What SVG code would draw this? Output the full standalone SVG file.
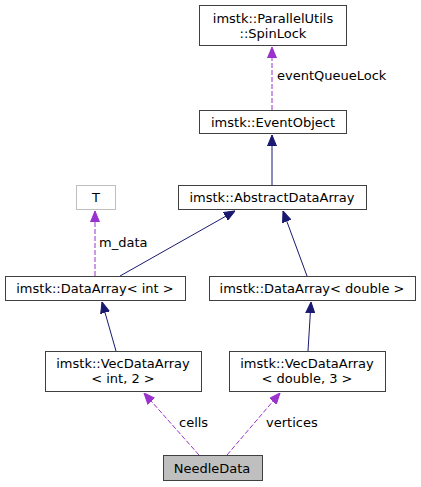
<svg xmlns="http://www.w3.org/2000/svg" width="421" height="487" viewBox="0 0 421 487">
<style>
text{font-family:"DejaVu Sans",sans-serif;font-size:13px;fill:#000;text-anchor:middle}
.lbl{text-anchor:start}
.box{fill:#fff;stroke:#404040;stroke-width:1}
.gbox{fill:#fff;stroke:#bfbfbf;stroke-width:1}
.sel{fill:#bfbfbf;stroke:#404040;stroke-width:1}
.inh{fill:none;stroke:#191970;stroke-width:1}
.use{fill:none;stroke:#9a32cd;stroke-width:1;stroke-dasharray:5,2}
</style>
<defs>
<marker id="ai" markerWidth="11" markerHeight="10" refX="11" refY="5" orient="auto" markerUnits="userSpaceOnUse" viewBox="0 0 11 10"><path d="M0,0.5 L11,5 L0,9.5 z" fill="#191970" stroke="#191970"/></marker>
<marker id="au" markerWidth="11" markerHeight="10" refX="11" refY="5" orient="auto" markerUnits="userSpaceOnUse" viewBox="0 0 11 10"><path d="M0,0.5 L11,5 L0,9.5 z" fill="#9a32cd" stroke="#9a32cd"/></marker>
</defs>
<g id="edges">
<path class="use" d="M272,110 L272,47" marker-end="url(#au)"/>
<text class="lbl" x="277" y="80">eventQueueLock</text>
<path class="inh" d="M120,276 L235,211" marker-end="url(#ai)"/>
<path class="inh" d="M272,185 L272,135" marker-end="url(#ai)"/>
<path class="inh" d="M307,276 L283,211" marker-end="url(#ai)"/>
<path class="use" d="M95,276 L95,211" marker-end="url(#au)"/>
<text class="lbl" x="99" y="247">m_data</text>
<path class="inh" d="M116,351 L102,302" marker-end="url(#ai)"/>
<path class="inh" d="M308,351 L311,302" marker-end="url(#ai)"/>
<path class="use" d="M199,455 L144,393" marker-end="url(#au)"/>
<text class="lbl" x="179" y="427">cells</text>
<path class="use" d="M227,455 L280,393" marker-end="url(#au)"/>
<text class="lbl" x="266" y="427">vertices</text>
</g>
<g id="spinlock"><rect class="box" x="199.5" y="5.5" width="147" height="40"/><text x="273" y="22.5">imstk::ParallelUtils</text><text x="273" y="37.5">::SpinLock</text></g>
<g id="eventobject"><rect class="box" x="199.5" y="110.5" width="147" height="23"/><text x="273" y="126.5">imstk::EventObject</text></g>
<g id="abstractdataarray"><rect class="box" x="178.5" y="185.5" width="188" height="24"/><text x="272" y="202">imstk::AbstractDataArray</text></g>
<g id="T"><rect class="gbox" x="76.5" y="185.5" width="39" height="24"/><text x="96" y="202">T</text></g>
<g id="dataarray_int"><rect class="box" x="5.5" y="276.5" width="180" height="24"/><text x="95" y="293">imstk::DataArray&lt; int &gt;</text></g>
<g id="dataarray_double"><rect class="box" x="209.5" y="276.5" width="206" height="24"/><text x="312" y="293">imstk::DataArray&lt; double &gt;</text></g>
<g id="vec_int"><rect class="box" x="45.5" y="351.5" width="156" height="40"/><text x="123" y="367.5">imstk::VecDataArray</text><text x="123" y="382.5">&lt; int, 2 &gt;</text></g>
<g id="vec_double"><rect class="box" x="229.5" y="351.5" width="156" height="40"/><text x="307" y="367.5">imstk::VecDataArray</text><text x="307" y="382.5">&lt; double, 3 &gt;</text></g>
<g id="needledata"><rect class="sel" x="163.5" y="455.5" width="99" height="25"/><text x="212" y="472.5">NeedleData</text></g>
</svg>
